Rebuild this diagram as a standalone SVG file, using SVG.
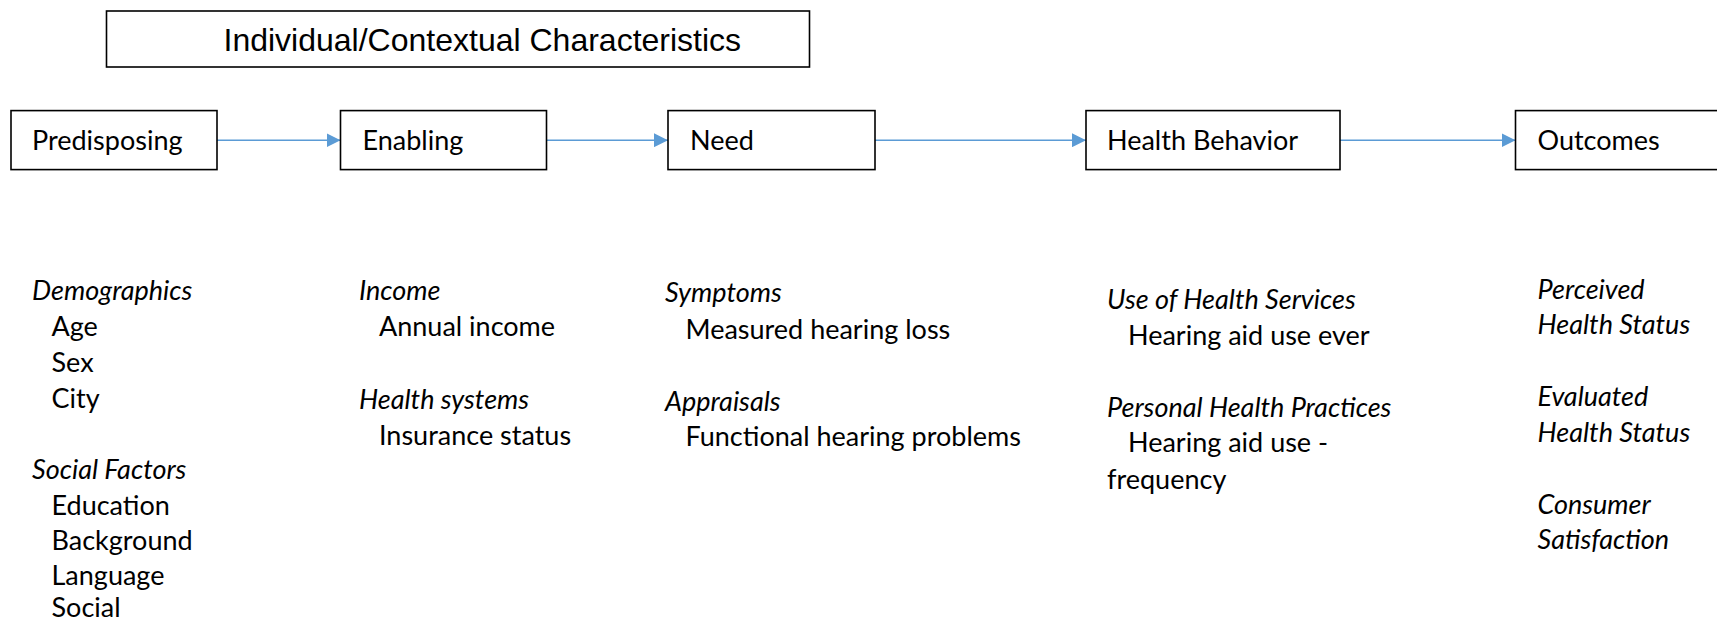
<svg xmlns="http://www.w3.org/2000/svg" width="1717" height="624" viewBox="0 0 1717 624">
<style>
.box{fill:#fff;stroke:#000;stroke-width:1.6}
.lbl{font-family:Lato,"Open Sans",sans-serif;font-size:27px;fill:#000}
.it{font-style:italic}
.title{font-family:"Liberation Sans",Arial,sans-serif;font-size:32px;fill:#000}
.conn{stroke:#5B9BD5;stroke-width:1.6;fill:none;marker-end:url(#ah)}
</style>
<defs>
<marker id="ah" viewBox="0 0 10 10" refX="10" refY="5" markerWidth="14" markerHeight="14" markerUnits="userSpaceOnUse" orient="auto">
<path d="M0,0 L10,5 L0,10 Z" fill="#5B9BD5"/>
</marker>
</defs>
<rect width="1717" height="624" fill="#fff"/>
<g id="title">
<rect class="box" x="106.5" y="11" width="703" height="56"/>
<text class="title" x="223.5" y="51">Individual/Contextual Characteristics</text>
</g>
<g id="connectors">
<line class="conn" x1="217" y1="140.2" x2="340.5" y2="140.2"/>
<line class="conn" x1="546.5" y1="140.2" x2="668" y2="140.2"/>
<line class="conn" x1="875" y1="140.2" x2="1086" y2="140.2"/>
<line class="conn" x1="1340" y1="140.2" x2="1515.5" y2="140.2"/>
</g>
<g id="predisposing">
<rect class="box" x="11" y="110.6" width="206" height="59"/>
<text class="lbl" x="32" y="150">Predisposing</text>
</g>
<g id="enabling">
<rect class="box" x="340.5" y="110.6" width="206" height="59"/>
<text class="lbl" x="362.5" y="150">Enabling</text>
</g>
<g id="need">
<rect class="box" x="668" y="110.6" width="207" height="59"/>
<text class="lbl" x="690" y="150">Need</text>
</g>
<g id="health-behavior">
<rect class="box" x="1086" y="110.6" width="254" height="59"/>
<text class="lbl" x="1107" y="150">Health Behavior</text>
</g>
<g id="outcomes">
<rect class="box" x="1515.5" y="110.6" width="230" height="59"/>
<text class="lbl" x="1537.5" y="150">Outcomes</text>
</g>
<g id="predisposing-details">
<text class="lbl it" x="32" y="300">Demographics</text>
<text class="lbl" x="51.5" y="336">Age</text>
<text class="lbl" x="51.5" y="372">Sex</text>
<text class="lbl" x="51.5" y="408">City</text>
<text class="lbl it" x="32" y="479">Social Factors</text>
<text class="lbl" x="51.5" y="514.5">Education</text>
<text class="lbl" x="51.5" y="550">Background</text>
<text class="lbl" x="51.5" y="585">Language</text>
<text class="lbl" x="51.5" y="617">Social</text>
</g>
<g id="enabling-details">
<text class="lbl it" x="359" y="300">Income</text>
<text class="lbl" x="379" y="335.5">Annual income</text>
<text class="lbl it" x="359" y="408.5">Health systems</text>
<text class="lbl" x="379" y="445">Insurance status</text>
</g>
<g id="need-details">
<text class="lbl it" x="665" y="302">Symptoms</text>
<text class="lbl" x="685.5" y="339">Measured hearing loss</text>
<text class="lbl it" x="665" y="411">Appraisals</text>
<text class="lbl" x="685.5" y="446">Functional hearing problems</text>
</g>
<g id="behavior-details">
<text class="lbl it" x="1107" y="309">Use of Health Services</text>
<text class="lbl" x="1128" y="344.5">Hearing aid use ever</text>
<text class="lbl it" x="1107" y="417">Personal Health Practices</text>
<text class="lbl" x="1128" y="452">Hearing aid use -</text>
<text class="lbl" x="1107" y="489">frequency</text>
</g>
<g id="outcome-details">
<text class="lbl it" x="1537.5" y="299">Perceived</text>
<text class="lbl it" x="1537.5" y="333.5">Health Status</text>
<text class="lbl it" x="1537.5" y="405.5">Evaluated</text>
<text class="lbl it" x="1537.5" y="441.5">Health Status</text>
<text class="lbl it" x="1537.5" y="514">Consumer</text>
<text class="lbl it" x="1537.5" y="549">Satisfaction</text>
</g>
</svg>
